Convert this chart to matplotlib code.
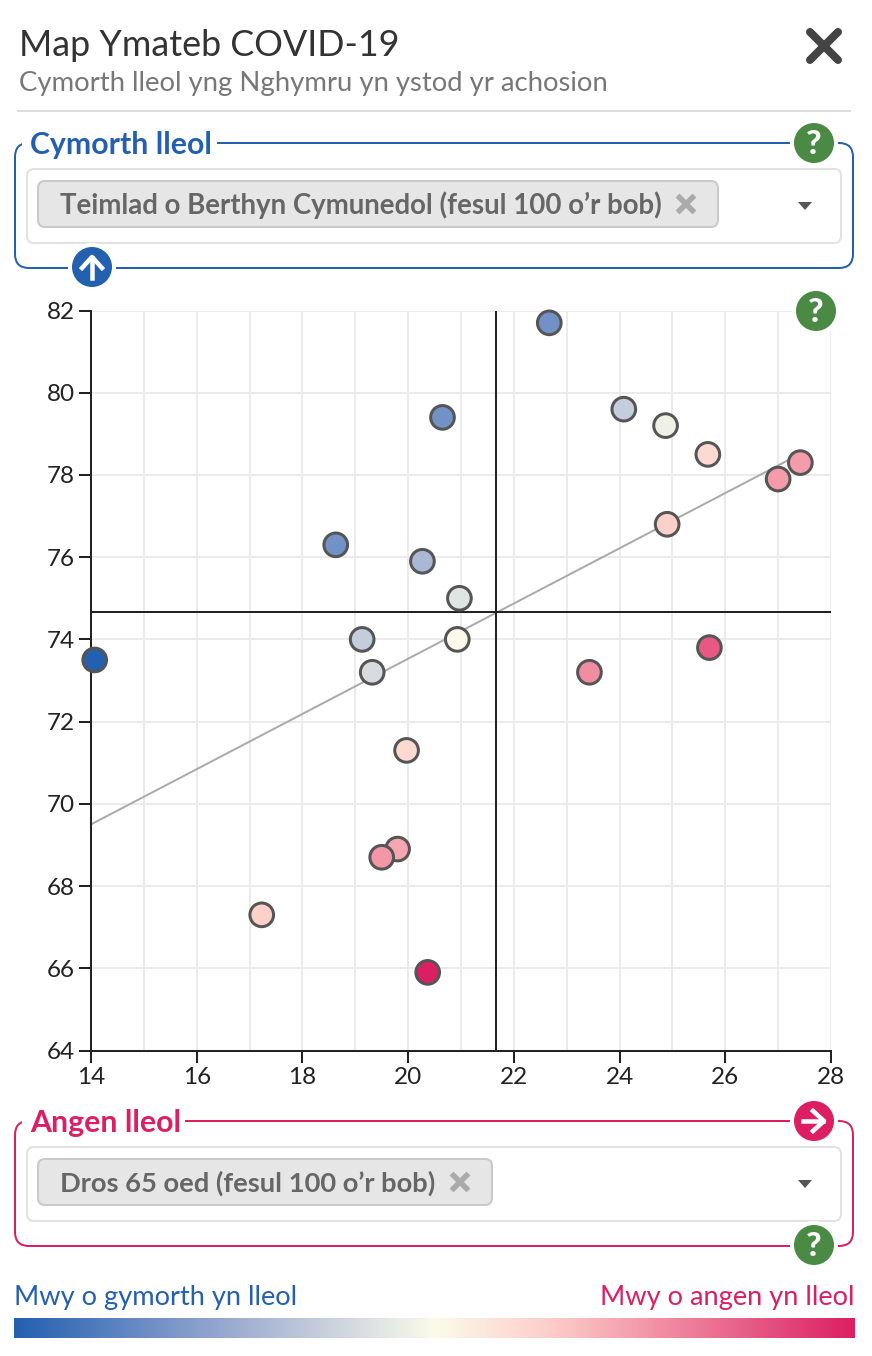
import numpy as np
import matplotlib
matplotlib.use('Agg')
import matplotlib.pyplot as plt
from matplotlib.colors import LinearSegmentedColormap
from matplotlib.patches import FancyBboxPatch, Circle, Rectangle, Polygon

plt.rcParams['font.family'] = ['Lato', 'DejaVu Sans']

# values
support_x = [22.67, 24.08, 24.87, 25.67, 27.42, 27.0, 24.9, 20.65, 18.63, 20.27, 20.97,
             19.13, 20.93, 19.32, 14.07, 23.43, 25.7, 19.97, 19.8, 19.5, 17.23, 20.37]
support_y = [81.7, 79.6, 79.2, 78.5, 78.3, 77.9, 76.8, 79.4, 76.3, 75.9, 75.0,
             74.0, 74.0, 73.2, 73.5, 73.2, 73.8, 71.3, 68.9, 68.7, 67.3, 65.9]
# position on the blue-to-pink scale, 0 to 1
need_score = [0.17, 0.36, 0.47, 0.6, 0.74, 0.74, 0.63, 0.17, 0.17, 0.3, 0.43,
              0.36, 0.5, 0.41, 0.0, 0.77, 0.88, 0.6, 0.72, 0.75, 0.63, 1.0]
trend_x = [14, 27.4]
trend_y = [69.5, 78.5]
mean_x = 21.66
mean_y = 74.67
x_ticks = [14, 16, 18, 20, 22, 24, 26, 28]
y_ticks = [64, 66, 68, 70, 72, 74, 76, 78, 80, 82]

BLUE = '#2460b0'
PINK = '#dc1f63'
GREEN = '#4a8a45'
W, H = 872, 1356

cmap = LinearSegmentedColormap.from_list('need', [(0, BLUE), (0.25, '#98a8d0'), (0.5, '#fbfbea'),
                                                  (0.64, '#fdcdc8'), (1, PINK)])

fig = plt.figure(figsize=(W / 100, H / 100), dpi=100)
px = 0.72  # points per pixel

# page furniture, in pixel coordinates
bg = fig.add_axes([0, 0, 1, 1])
bg.set_xlim(0, W)
bg.set_ylim(H, 0)
bg.axis('off')

# the help icon over the plot corner needs its own layer
front = fig.add_axes([0, 0, 1, 1])
front.set_xlim(0, W)
front.set_ylim(H, 0)
front.axis('off')


def rbox(x0, y0, x1, y1, r, fc, ec, lw, z=1):
    bg.add_patch(FancyBboxPatch((x0 + r, y0 + r), x1 - x0 - 2 * r, y1 - y0 - 2 * r,
                                boxstyle='round,pad=%g,rounding_size=%g' % (r, r),
                                fc=fc, ec=ec, lw=lw * px, zorder=z))


def icon(on, cx, cy, colour, kind):
    on.add_patch(Circle((cx, cy), 24, fc='white', ec='none', zorder=3))
    on.add_patch(Circle((cx, cy), 20, fc=colour, ec='none', zorder=4))
    if kind == '?':
        on.text(cx, cy + 1, '?', color='white', fontsize=24, fontweight='black',
                ha='center', va='center', zorder=5)
    elif kind == 'up':
        on.plot([cx, cx], [cy + 11, cy - 9], color='white', lw=4.5 * px, zorder=5)
        on.plot([cx - 10, cx, cx + 10], [cy + 1, cy - 10, cy + 1], color='white', lw=4.5 * px, zorder=5)
    else:
        on.plot([cx - 11, cx + 9], [cy, cy], color='white', lw=4.5 * px, zorder=5)
        on.plot([cx - 1, cx + 10, cx - 1], [cy - 10, cy, cy + 10], color='white', lw=4.5 * px, zorder=5)


def panel(top, colour, title, title_end, tag, tag_size, tag_end, icon_kinds):
    rbox(15, top, 853, top + 125, 14, 'none', colour, 2)
    bg.add_patch(Rectangle((22, top - 4), title_end - 22, 8, fc='white', ec='none', zorder=2))
    bg.text(30, top + 2, title, color=colour, fontsize=21.8, fontweight='bold', va='center', zorder=3)
    rbox(27, top + 26, 841, top + 100, 7, 'white', '#e2e2e2', 2)
    rbox(38, top + 38, tag_end, top + 84, 7, '#e6e6e6', '#c9c9c9', 2)
    bg.text(60, top + 62, tag, color='#666666', fontsize=tag_size, fontweight='bold', va='center', zorder=3)
    mx = tag_end - 32
    my = top + 61
    bg.plot([mx - 6.5, mx + 6.5], [my - 6.5, my + 6.5], color='#aaaaaa', lw=5.5 * px, zorder=3)
    bg.plot([mx - 6.5, mx + 6.5], [my + 6.5, my - 6.5], color='#aaaaaa', lw=5.5 * px, zorder=3)
    bg.add_patch(Polygon([[798, top + 59], [812, top + 59], [805, top + 67]], fc='#555555', ec='none', zorder=3))
    for kx, ky, colour_k, kind in icon_kinds:
        icon(bg, kx, ky, colour_k, kind)


# header
bg.text(19, 46, 'Map Ymateb COVID-19', color='#333333', fontsize=25.8, va='center')
bg.text(19, 84, 'Cymorth lleol yng Nghymru yn ystod yr achosion', color='#777777', fontsize=19.77, va='center')
bg.plot([18, 850], [111, 111], color='#dddddd', lw=2 * px)
bg.plot([810, 838], [32, 60], color='#444444', lw=8 * px, solid_capstyle='round')
bg.plot([810, 838], [60, 32], color='#444444', lw=8 * px, solid_capstyle='round')

panel(143, BLUE, 'Cymorth lleol', 217, 'Teimlad o Berthyn Cymunedol (fesul 100 o\u2019r bob)', 19.86, 718,
      [(814, 143, GREEN, '?'), (92, 267, BLUE, 'up')])
panel(1121, PINK, 'Angen lleol', 185, 'Dros 65 oed (fesul 100 o\u2019r bob)', 19.75, 492,
      [(814, 1121, PINK, 'right'), (814, 1245, GREEN, '?')])

# colour key
bg.text(14, 1298, 'Mwy o gymorth yn lleol', color=BLUE, fontsize=19.65, va='center')
bg.text(854, 1298, 'Mwy o angen yn lleol', color=PINK, fontsize=19.65, va='center', ha='right')
bg.imshow(np.linspace(0, 1, 512).reshape(1, -1), cmap=cmap, extent=[14, 854, 1338, 1318], aspect='auto')
bg.set_xlim(0, W)
bg.set_ylim(H, 0)

# the scatter itself
left, right, top, bottom = 91, 831, 310.5, 1050.5
ax = fig.add_axes([left / W, 1 - bottom / H, (right - left) / W, (bottom - top) / H])
ax.patch.set_alpha(0)
ax.set_xlim(14, 28)
ax.set_ylim(64, 82)
ax.set_xticks(x_ticks)
ax.set_yticks(y_ticks)
ax.set_xticks([t + 1 for t in x_ticks[:-1]], minor=True)
ax.grid(True, which='both', axis='x', color='#ebebeb', lw=2 * px, zorder=0)
ax.grid(True, which='major', axis='y', color='#ebebeb', lw=2 * px, zorder=0)
ax.set_axisbelow(True)
for s in ['top', 'right']:
    ax.spines[s].set_visible(False)
for s in ['left', 'bottom']:
    ax.spines[s].set_color('#222222')
    ax.spines[s].set_linewidth(2 * px)
ax.tick_params(which='major', length=12 * px, width=2 * px, color='#222222', labelcolor='#222222',
               labelsize=17.5, pad=3)
ax.tick_params(which='minor', length=0)
ax.plot(trend_x, trend_y, color='#aaaaaa', lw=2 * px, zorder=2)
ax.axvline(mean_x, color='#222222', lw=2 * px, zorder=2)
ax.axhline(mean_y, color='#222222', lw=2 * px, zorder=2)
ax.scatter(support_x, support_y, c=need_score, cmap=cmap, vmin=0, vmax=1, s=290,
           edgecolors='#555555', linewidths=3 * px, zorder=3, clip_on=False)

icon(front, 816, 311, GREEN, '?')
bg.set_zorder(0)
ax.set_zorder(1)
front.set_zorder(2)

fig.savefig('out.png', dpi=100)
